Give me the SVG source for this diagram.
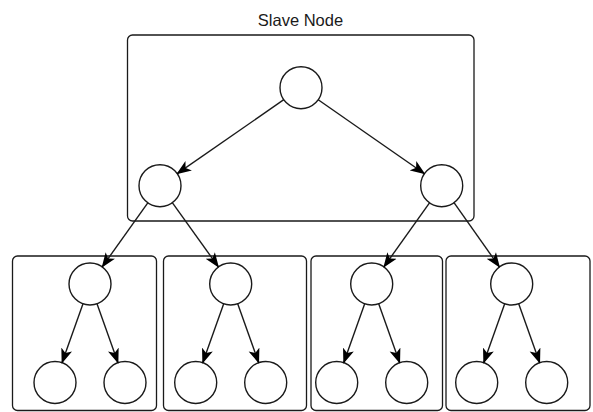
<svg xmlns="http://www.w3.org/2000/svg" width="593" height="412" viewBox="0 0 593 412">
  <style>
    .box { fill: #ffffff; stroke: #1a1a1a; stroke-width: 1.3; }
    .node { fill: #ffffff; stroke: #1a1a1a; stroke-width: 1.4; }
    .edge { fill: none; stroke: #1a1a1a; stroke-width: 1.4; marker-end: url(#arrow); }
    .title { font-family: "Liberation Sans", Arial, sans-serif; font-size: 16.5px; fill: #1a1a1a; text-anchor: middle; }
  </style>
  <defs>
    <marker id="arrow" markerUnits="userSpaceOnUse" markerWidth="15" markerHeight="12" viewBox="0 0 15 12" refX="14" refY="6" orient="auto">
      <path d="M 0 0.3 L 15 6 L 0 11.7 L 3.8 6 Z" fill="#000000"/>
    </marker>
  </defs>

  <!-- container boxes -->
  <g id="slave-node">
    <rect class="box" x="127.5" y="35" width="346.5" height="186" rx="5"/>
    <text class="title" x="300.5" y="25.5">Slave Node</text>
  </g>
  <g id="sub-box-1"><rect class="box" x="12.5" y="256" width="144" height="154.5" rx="5"/></g>
  <g id="sub-box-2"><rect class="box" x="163.5" y="256" width="143" height="154.5" rx="5"/></g>
  <g id="sub-box-3"><rect class="box" x="311" y="256" width="131.5" height="154.5" rx="5"/></g>
  <g id="sub-box-4"><rect class="box" x="446" y="256" width="144" height="154.5" rx="5"/></g>

  <!-- tree nodes -->
  <g id="root"><circle class="node" cx="301" cy="87.7" r="21"/></g>
  <g id="mid-left"><circle class="node" cx="160" cy="185.7" r="21"/></g>
  <g id="mid-right"><circle class="node" cx="441.7" cy="185.7" r="21"/></g>

  <g id="t1"><circle class="node" cx="90" cy="284" r="21"/></g>
  <g id="t2"><circle class="node" cx="230.7" cy="284" r="21"/></g>
  <g id="t3"><circle class="node" cx="371.7" cy="284" r="21"/></g>
  <g id="t4"><circle class="node" cx="511.7" cy="284" r="21"/></g>

  <g id="leaf-1a"><circle class="node" cx="55" cy="382.5" r="21"/></g>
  <g id="leaf-1b"><circle class="node" cx="125" cy="382.5" r="21"/></g>
  <g id="leaf-2a"><circle class="node" cx="195.7" cy="382.5" r="21"/></g>
  <g id="leaf-2b"><circle class="node" cx="265.7" cy="382.5" r="21"/></g>
  <g id="leaf-3a"><circle class="node" cx="336.7" cy="382.5" r="21"/></g>
  <g id="leaf-3b"><circle class="node" cx="406.7" cy="382.5" r="21"/></g>
  <g id="leaf-4a"><circle class="node" cx="476.7" cy="382.5" r="21"/></g>
  <g id="leaf-4b"><circle class="node" cx="546.7" cy="382.5" r="21"/></g>

  <!-- connectors -->
  <g id="connectors">
    <line class="edge" x1="283.8" y1="99.7" x2="177.2" y2="173.7"/>
    <line class="edge" x1="318.2" y1="99.7" x2="424.5" y2="173.7"/>

    <line class="edge" x1="147.8" y1="202.8" x2="102.2" y2="266.9"/>
    <line class="edge" x1="172.3" y1="202.7" x2="218.4" y2="266.9"/>
    <line class="edge" x1="429.5" y1="202.8" x2="383.9" y2="266.9"/>
    <line class="edge" x1="454" y1="202.7" x2="499.4" y2="266.9"/>

    <line class="edge" x1="83" y1="303.8" x2="62" y2="362.7"/>
    <line class="edge" x1="97" y1="303.8" x2="118" y2="362.7"/>
    <line class="edge" x1="223.7" y1="303.8" x2="202.7" y2="362.7"/>
    <line class="edge" x1="237.7" y1="303.8" x2="258.7" y2="362.7"/>
    <line class="edge" x1="364.7" y1="303.8" x2="343.7" y2="362.7"/>
    <line class="edge" x1="378.7" y1="303.8" x2="399.7" y2="362.7"/>
    <line class="edge" x1="504.7" y1="303.8" x2="483.7" y2="362.7"/>
    <line class="edge" x1="518.7" y1="303.8" x2="539.7" y2="362.7"/>
  </g>
</svg>
